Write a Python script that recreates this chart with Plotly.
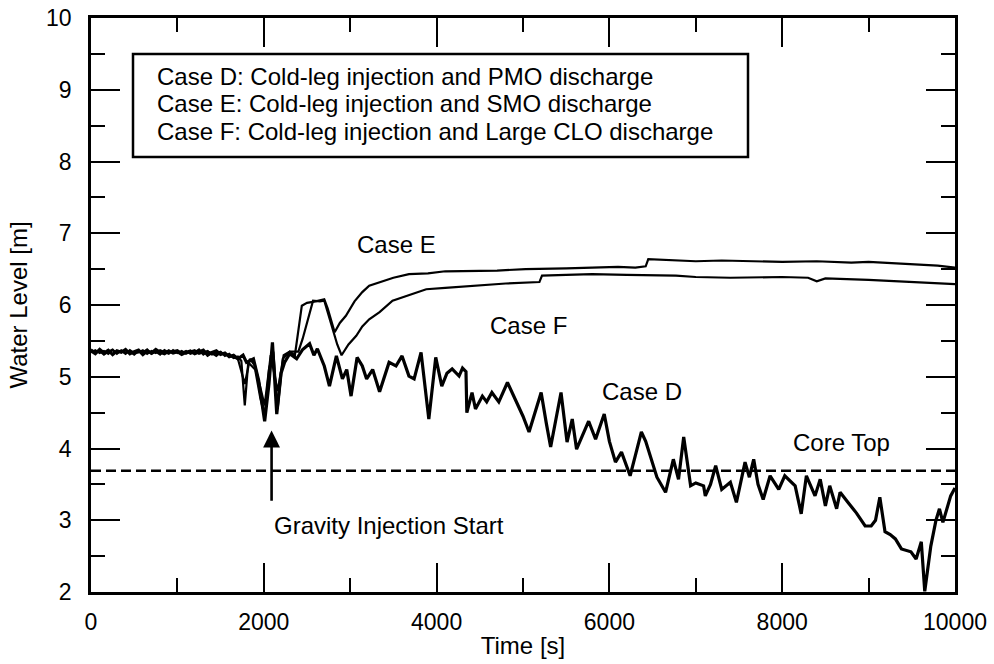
import plotly.graph_objects as go

# ---------------- data ----------------
flat_t = [0, 50, 100, 150, 200, 250, 300, 350, 400, 450, 500, 550, 600, 650, 700, 750, 800, 850,
          900, 950, 1000, 1050, 1100, 1150, 1200, 1250, 1300, 1350, 1400, 1450, 1500, 1550, 1600, 1650]
flat_d = [5.36, 5.32, 5.38, 5.33, 5.37, 5.31, 5.36, 5.34, 5.38, 5.32, 5.35, 5.37, 5.31, 5.36, 5.33,
          5.38, 5.34, 5.32, 5.36, 5.33, 5.35, 5.31, 5.34, 5.36, 5.32, 5.35, 5.37, 5.30, 5.34, 5.36,
          5.31, 5.33, 5.28, 5.30]
flat_e = [5.34, 5.37, 5.33, 5.36, 5.32, 5.37, 5.33, 5.36, 5.32, 5.37, 5.33, 5.34, 5.37, 5.32, 5.36,
          5.33, 5.37, 5.35, 5.32, 5.37, 5.33, 5.36, 5.32, 5.35, 5.37, 5.32, 5.34, 5.36, 5.31, 5.33,
          5.35, 5.29, 5.32, 5.26]
flat_f = [5.38, 5.34, 5.36, 5.31, 5.35, 5.38, 5.32, 5.37, 5.34, 5.35, 5.31, 5.36, 5.34, 5.38, 5.32,
          5.35, 5.31, 5.37, 5.34, 5.35, 5.37, 5.33, 5.36, 5.32, 5.34, 5.38, 5.31, 5.35, 5.33, 5.29,
          5.34, 5.31, 5.30, 5.27]

case_d_t = flat_t + [1700, 1760, 1800, 1880, 1940, 2010, 2060, 2100, 2150, 2200, 2240, 2300, 2380,
                     2450, 2530, 2580, 2620, 2700, 2760, 2840, 2910, 2960, 3010, 3080, 3140, 3190,
                     3260, 3340, 3400, 3450, 3530, 3600, 3680, 3740, 3820, 3860, 3910, 3990, 4060,
                     4120, 4180, 4260, 4300, 4340, 4350, 4410, 4450, 4530, 4580, 4640, 4720, 4820,
                     4920, 5000, 5070, 5140, 5210, 5270, 5320, 5380, 5440, 5510, 5570, 5620, 5690,
                     5760, 5840, 5940, 6000, 6070, 6140, 6240, 6300, 6370, 6420, 6490, 6550, 6650,
                     6740, 6800, 6860, 6940, 7000, 7090, 7110, 7170, 7230, 7300, 7400, 7470, 7570,
                     7620, 7670, 7720, 7780, 7860, 7960, 8030, 8090, 8150, 8220, 8280, 8380, 8440,
                     8500, 8550, 8630, 8670, 8760, 8860, 8960, 9030, 9080, 9130, 9190, 9250, 9310,
                     9380, 9490, 9550, 9610, 9650, 9720, 9780, 9820, 9860, 9950, 10000]
case_d_y = flat_d + [5.25, 5.30, 5.20, 5.25, 4.95, 4.38, 4.90, 5.48, 4.48, 5.05, 5.20, 5.32, 5.25,
                     5.38, 5.46, 5.30, 5.39, 5.15, 4.87, 5.29, 4.97, 5.10, 4.73, 5.27, 5.15, 4.97,
                     5.10, 4.79, 5.00, 5.20, 5.15, 5.29, 5.01, 4.97, 5.34, 4.90, 4.41, 5.27, 4.87,
                     5.05, 5.11, 5.01, 5.12, 5.07, 4.50, 4.78, 4.55, 4.73, 4.65, 4.78, 4.65, 4.92,
                     4.65, 4.45, 4.23, 4.50, 4.78, 4.35, 4.02, 4.40, 4.78, 4.09, 4.41, 3.99, 4.20,
                     4.38, 4.13, 4.48, 4.10, 3.81, 3.95, 3.62, 3.90, 4.23, 4.10, 3.81, 3.60, 3.39,
                     3.85, 3.57, 4.16, 3.48, 3.52, 3.48, 3.34, 3.50, 3.76, 3.43, 3.53, 3.25, 3.81,
                     3.60, 3.85, 3.50, 3.29, 3.62, 3.43, 3.62, 3.55, 3.48, 3.09, 3.62, 3.34, 3.57,
                     3.20, 3.48, 3.16, 3.39, 3.25, 3.10, 2.92, 2.92, 3.00, 3.32, 2.84, 2.80, 2.74,
                     2.60, 2.56, 2.46, 2.70, 2.01, 2.64, 3.00, 3.16, 2.97, 3.34, 3.45]

case_e_t = flat_t + [1700, 1740, 1780, 1820, 1900, 1960, 2010, 2060, 2110, 2160, 2220, 2300, 2360,
                     2440, 2500, 2600, 2700, 2740, 2820, 2880, 2950, 3050, 3140, 3220, 3340, 3500,
                     3680, 3900, 4100, 4260, 4500, 4700, 5030, 5300, 5500, 5800, 6100, 6300, 6420,
                     6450, 6600, 7000, 7300, 7600, 8000, 8400, 8800, 9000, 9300, 9500, 9800, 10000]
case_e_y = flat_e + [5.28, 5.22, 4.60, 5.20, 5.10, 4.70, 4.45, 5.10, 5.35, 4.55, 5.25, 5.35, 5.30,
                     5.99, 6.03, 6.05, 6.08, 5.95, 5.62, 5.75, 5.85, 6.05, 6.18, 6.27, 6.32, 6.38,
                     6.43, 6.44, 6.47, 6.47, 6.48, 6.48, 6.50, 6.50, 6.51, 6.52, 6.53, 6.52, 6.54,
                     6.64, 6.63, 6.61, 6.62, 6.61, 6.60, 6.61, 6.59, 6.60, 6.58, 6.57, 6.55, 6.52]

case_f_t = flat_t + [1700, 1780, 1840, 1900, 2010, 2080, 2160, 2230, 2300, 2400, 2450, 2570, 2650,
                     2700, 2780, 2850, 2900, 2980, 3070, 3140, 3220, 3340, 3490, 3700, 3880, 4100,
                     4450, 4800, 5190, 5220, 5500, 5800, 6200, 6770, 7000, 7400, 8000, 8300, 8400,
                     8500, 9000, 9500, 10000]
case_f_y = flat_f + [5.25, 4.90, 5.25, 5.15, 4.60, 5.30, 4.80, 5.30, 5.35, 5.35, 5.53, 6.06, 6.05,
                     6.06, 5.75, 5.45, 5.30, 5.45, 5.57, 5.70, 5.80, 5.90, 6.06, 6.15, 6.22, 6.24,
                     6.27, 6.30, 6.32, 6.41, 6.42, 6.43, 6.42, 6.41, 6.39, 6.38, 6.39, 6.38, 6.33,
                     6.37, 6.35, 6.32, 6.29]

core_top_level = 3.69
core_top_t = [0, 10000]
injection_start_t = 2090

x_all_ticks = [0, 1000, 2000, 3000, 4000, 5000, 6000, 7000, 8000, 9000, 10000]
x_major_ticks = [0, 2000, 4000, 6000, 8000, 10000]
y_all_ticks = [2, 2.5, 3, 3.5, 4, 4.5, 5, 5.5, 6, 6.5, 7, 7.5, 8, 8.5, 9, 9.5, 10]
y_major_ticks = [2, 3, 4, 5, 6, 7, 8, 9, 10]

legend_lines = [
    "Case D: Cold-leg injection and PMO discharge",
    "Case E: Cold-leg injection and SMO discharge",
    "Case F: Cold-leg injection and Large CLO discharge",
]

# ---------------- figure ----------------
FONT = "Liberation Sans, Arial, sans-serif"
L, R, T, B = 91, 39, 18, 72
W, H = 994, 664
PW, PH = W - L - R, H - T - B


def px_x(p):
    return (p - L) / PW


def px_y(p):
    return 1 - (p - T) / PH


fig = go.Figure()

fig.add_trace(go.Scatter(x=core_top_t, y=[core_top_level] * len(core_top_t), mode="lines",
                         line=dict(color="black", width=2.3, dash="10px,5px"), showlegend=False))
fig.add_trace(go.Scatter(x=case_f_t, y=case_f_y, mode="lines",
                         line=dict(color="black", width=2.2), showlegend=False))
fig.add_trace(go.Scatter(x=case_e_t, y=case_e_y, mode="lines",
                         line=dict(color="black", width=2.2), showlegend=False))
fig.add_trace(go.Scatter(x=case_d_t, y=case_d_y, mode="lines",
                         line=dict(color="black", width=3.2), showlegend=False))
# invisible trace so that the overlay axes (long major ticks) are rendered
fig.add_trace(go.Scatter(x=[None], y=[None], xaxis="x2", yaxis="y2", mode="lines",
                         showlegend=False, hoverinfo="skip"))

tick_font = dict(family=FONT, size=23, color="black")

x_text = [str(v) if v in x_major_ticks else "" for v in x_all_ticks]
y_text = [str(int(v)) if v in y_major_ticks else "" for v in y_all_ticks]

fig.update_layout(
    xaxis=dict(range=[0, 10000], tickmode="array", tickvals=x_all_ticks, ticktext=x_text,
               showline=True, linecolor="black", linewidth=2.5, mirror="allticks",
               ticks="inside", ticklen=14, tickwidth=2.2, tickcolor="black",
               showgrid=False, zeroline=False, automargin=False, tickfont=tick_font,
               ticklabelstandoff=8,
               title=dict(text="Time [s]", font=dict(family=FONT, size=24, color="black"), standoff=3)),
    yaxis=dict(range=[2, 10], tickmode="array", tickvals=y_all_ticks, ticktext=y_text,
               showline=True, linecolor="black", linewidth=2.5, mirror="allticks",
               ticks="inside", ticklen=14, tickwidth=2.2, tickcolor="black",
               showgrid=False, zeroline=False, automargin=False, tickfont=tick_font,
               ticklabelstandoff=12,
               title=dict(text="Water Level [m]", font=dict(family=FONT, size=24, color="black"), standoff=12)),
    xaxis2=dict(range=[0, 10000], overlaying="x", anchor="y2", side="bottom",
                tickmode="array", tickvals=x_major_ticks, showticklabels=False,
                showline=False, mirror="allticks", ticks="inside", ticklen=29, tickwidth=2.2,
                tickcolor="black", showgrid=False, zeroline=False, automargin=False),
    yaxis2=dict(range=[2, 10], overlaying="y", anchor="x2", side="left",
                tickmode="array", tickvals=y_major_ticks, showticklabels=False,
                showline=False, mirror="allticks", ticks="inside", ticklen=29, tickwidth=2.2,
                tickcolor="black", showgrid=False, zeroline=False, automargin=False),
)

# legend-like text box
fig.add_shape(type="rect", xref="paper", yref="paper",
              x0=px_x(133), x1=px_x(748), y0=px_y(157), y1=px_y(54),
              line=dict(color="black", width=2.5), fillcolor="white", layer="above")
for line, py in zip(legend_lines, [76, 103, 131]):
    fig.add_annotation(xref="paper", yref="paper", x=px_x(155), y=px_y(py),
                       xanchor="left", yanchor="middle", showarrow=False, text=line,
                       font=dict(family=FONT, size=24, color="black"))

labels = [("Case E", 3533, 6.85), ("Case F", 5069, 5.71), ("Case D", 6374, 4.80),
          ("Core Top", 8684, 4.09), ("Gravity Injection Start", 3453, 2.92)]
for txt, tx, ty in labels:
    fig.add_annotation(x=tx, y=ty, text=txt, showarrow=False,
                       font=dict(family=FONT, size=24, color="black"))

fig.add_annotation(x=injection_start_t, y=4.25, ax=injection_start_t, ay=3.25,
                   xref="x", yref="y", axref="x", ayref="y", text="", showarrow=True,
                   arrowhead=2, arrowsize=1.3, arrowwidth=2.6, arrowcolor="black")

fig.update_layout(width=W, height=H, margin=dict(l=L, r=R, t=T, b=B),
                  paper_bgcolor="white", plot_bgcolor="white",
                  font=dict(family=FONT, color="black"))

fig.write_html("out.html")
